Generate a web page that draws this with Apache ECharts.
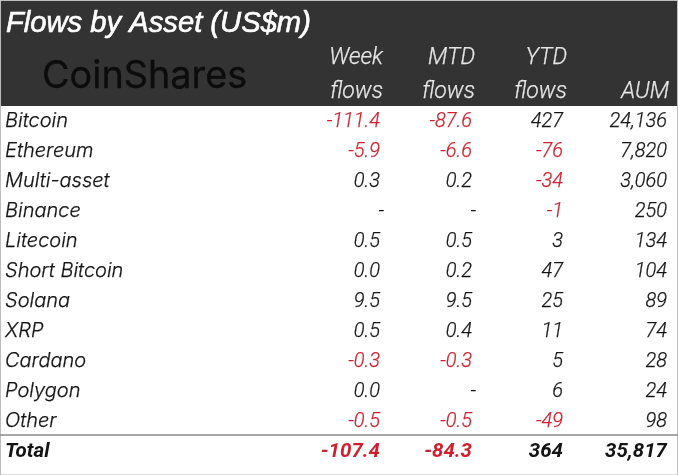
<!DOCTYPE html>
<html>
<head>
<meta charset="utf-8">
<title>Flows by Asset</title>
<style>
  html, body { margin: 0; padding: 0; background: #fff; }
  #main { width: 678px; height: 475px; }
</style>
<script src="https://cdn.jsdelivr.net/npm/echarts@6/dist/echarts.min.js"></script>
</head>
<body>
<div id="main"></div>
<script>
// table values, null means the source shows a dash
const assets = ["Bitcoin", "Ethereum", "Multi-asset", "Binance", "Litecoin", "Short Bitcoin", "Solana", "XRP", "Cardano", "Polygon", "Other", "Total"];
const weekFlows = [-111.4, -5.9, 0.3, null, 0.5, 0.0, 9.5, 0.5, -0.3, 0.0, -0.5, -107.4];
const mtdFlows = [-87.6, -6.6, 0.2, null, 0.5, 0.2, 9.5, 0.4, -0.3, null, -0.5, -84.3];
const ytdFlows = [427, -76, -34, -1, 3, 47, 25, 11, 5, 6, -49, 364];
const aum = [24136, 7820, 3060, 250, 134, 104, 89, 74, 28, 24, 98, 35817];
const headerTop = ["Week", "MTD", "YTD", ""];
const headerBottom = ["flows", "flows", "flows", "AUM"];
const titleText = "Flows by Asset (US$m)";
const logoText = "CoinShares";

const RED = "#cf1f2d";
const INK = "#141414";
const NUM_FONT = "Roboto";
const NAME_FONT = "Inter";

// right edge of each numeric column on the x axis (0..678)
const colEdge = [380, 472, 563, 667];
const headEdge = [383, 475, 567, 669];

const oneDecimal = (v) => (v === null ? "-" : v.toFixed(1));
const whole = (v) => (v === null ? "-" : v.toLocaleString("en-US"));

const bodyRows = [];
assets.forEach((name, i) => {
  bodyRows.push([5, i, name, "left", INK]);
  [
    oneDecimal(weekFlows[i]),
    oneDecimal(mtdFlows[i]),
    whole(ytdFlows[i]),
    whole(aum[i]),
  ].forEach((text, c) => {
    const raw = [weekFlows, mtdFlows, ytdFlows, aum][c][i];
    // dashes hang a little past the number edge
    const x = colEdge[c] + (raw === null ? 4 : 0);
    bodyRows.push([x, i, text, "right", raw < 0 ? RED : INK]);
  });
});

const headRows = [];
headEdge.forEach((x, c) => {
  if (headerTop[c]) headRows.push([x, 1, headerTop[c]]);
  headRows.push([x, 2, headerBottom[c]]);
});

const myChart = echarts.init(document.getElementById("main"), null, { renderer: "canvas" });

const option = {
  animation: false,
  backgroundColor: "#fff",
  grid: [
    { left: 0, right: 1, top: 1, height: 105, show: true, backgroundColor: "#333333", borderWidth: 0 },
    { left: 0, right: 0, top: 105, height: 360 },
    // thin page frame, its bottom edge runs off the picture
    { left: 0.5, right: 0.5, top: 0.5, height: 490, show: true, borderColor: "#bdbdbd", borderWidth: 1, backgroundColor: "transparent" },
  ],
  xAxis: [
    { gridIndex: 0, type: "value", min: 0, max: 677, show: false },
    { gridIndex: 1, type: "value", min: 0, max: 678, show: false },
    { gridIndex: 2, type: "value", show: false },
  ],
  yAxis: [
    { gridIndex: 0, type: "category", inverse: true, data: ["title", "top", "bottom"], show: false },
    { gridIndex: 1, type: "category", inverse: true, data: assets, show: false },
    { gridIndex: 2, type: "value", show: false },
  ],
  series: [
    {
      type: "custom",
      xAxisIndex: 1,
      yAxisIndex: 1,
      coordinateSystem: "cartesian2d",
      data: bodyRows,
      silent: true,
      renderItem: (params, api) => {
        const row = bodyRows[params.dataIndex];
        const pt = api.coord([row[0], row[1]]);
        const isTotal = row[1] === assets.length - 1;
        const isName = row[3] === "left";
        let font = "italic 300 20px " + (isName ? NAME_FONT : NUM_FONT);
        if (isTotal) font = "italic 700 20.5px " + NUM_FONT;
        return {
          type: "text",
          x: pt[0],
          y: pt[1] + (isName && !isTotal ? 1 : 2),
          style: {
            text: row[2],
            fill: row[4],
            stroke: row[4],
            lineWidth: isTotal ? 0 : 0.25,
            align: row[3],
            verticalAlign: "middle",
            font: font,
          },
        };
      },
    },
    {
      // rule above the Total row, sits on the band edge
      type: "custom",
      xAxisIndex: 1,
      yAxisIndex: 1,
      coordinateSystem: "cartesian2d",
      data: [[0, assets.length - 1]],
      silent: true,
      renderItem: (params, api) => {
        const pt = api.coord([api.value(0), api.value(1)]);
        const band = api.size([0, 1])[1];
        const y = pt[1] - band / 2;
        return {
          type: "line",
          shape: { x1: pt[0], y1: y, x2: pt[0] + params.coordSys.width, y2: y },
          style: { stroke: "#8a8a8a", lineWidth: 1.5 },
        };
      },
    },
    {
      type: "custom",
      xAxisIndex: 0,
      yAxisIndex: 0,
      coordinateSystem: "cartesian2d",
      data: headRows,
      silent: true,
      z: 3,
      renderItem: (params, api) => {
        const row = headRows[params.dataIndex];
        const pt = api.coord([row[0], row[1]]);
        return {
          type: "text",
          x: pt[0],
          y: pt[1] + (row[1] === 1 ? 5 : 4),
          style: {
            text: row[2],
            fill: "#e6e6e6",
            stroke: "#e6e6e6",
            lineWidth: 0.25,
            align: "right",
            verticalAlign: "middle",
            font: "italic 300 23px " + NUM_FONT,
          },
        };
      },
    },
    {
      // title and wordmark live in the header grid too
      type: "custom",
      xAxisIndex: 0,
      yAxisIndex: 0,
      coordinateSystem: "cartesian2d",
      data: [[6, 0, titleText], [42, 2, logoText]],
      silent: true,
      z: 3,
      renderItem: (params, api) => {
        const isTitle = params.dataIndex === 0;
        const pt = api.coord([api.value(0), api.value(1)]);
        return {
          type: "text",
          x: pt[0],
          y: pt[1] + (isTitle ? 5 : -12),
          style: {
            text: isTitle ? titleText : logoText,
            fill: isTitle ? "#ffffff" : "#0c0c0c",
            stroke: isTitle ? "#ffffff" : "#0c0c0c",
            lineWidth: isTitle ? 0.6 : 0.3,
            align: "left",
            verticalAlign: "middle",
            font: isTitle ? "italic 400 29.2px 'Liberation Sans'" : "400 37.8px Inter",
          },
        };
      },
    },
  ],
};

option && myChart.setOption(option);
</script>
</body>
</html>
